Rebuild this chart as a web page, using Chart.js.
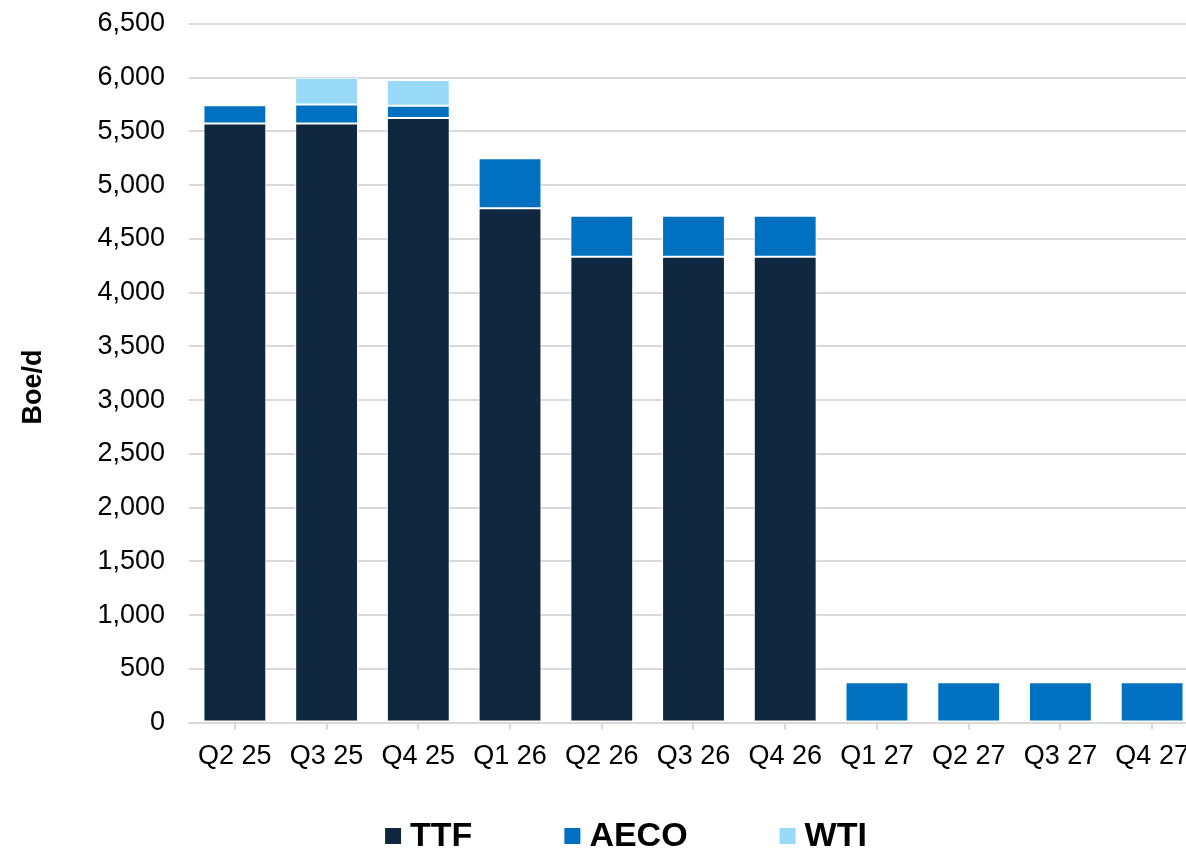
<!DOCTYPE html>
<html>
<head>
<meta charset="utf-8">
<script src="https://cdn.jsdelivr.net/npm/chart.js@4"></script>
<style>
  html, body { margin: 0; padding: 0; background: #fff; overflow: hidden; }
  #wrap { position: relative; width: 1200px; height: 851px; }
</style>
</head>
<body>
<div id="wrap"><canvas id="c"></canvas></div>
<script>
const categories = ["Q2 25", "Q3 25", "Q4 25", "Q1 26", "Q2 26", "Q3 26", "Q4 26", "Q1 27", "Q2 27", "Q3 27", "Q4 27"];
const ttf  = [5575, 5575, 5625, 4785, 4335, 4335, 4335, 0, 0, 0, 0];
const aeco = [170, 175, 115, 465, 380, 380, 380, 375, 375, 375, 375];
const wti  = [0, 250, 240, 0, 0, 0, 0, 0, 0, 0, 0];
const seriesNames = ["TTF", "AECO", "WTI"];
const seriesColors = ["#10283f", "#0070c0", "#98daf7"];
const yTitle = "Boe/d";

const FONT = "'Liberation Sans', Arial, sans-serif";

const customDecor = {
  id: 'customDecor',
  afterDraw(chart) {
    const ctx = chart.ctx;
    ctx.save();
    ctx.font = "bold 27px " + FONT;
    ctx.fillStyle = '#000';
    ctx.textAlign = 'center';
    ctx.textBaseline = 'middle';
    ctx.translate(34, 387);
    ctx.rotate(-Math.PI / 2);
    ctx.fillText(yTitle, 0, 0);
    ctx.restore();

    ctx.save();
    ctx.font = "bold 34px " + FONT;
    ctx.textBaseline = 'middle';
    ctx.textAlign = 'left';
    const box = 16, gapText = 9, gapItem = 92, cy = 836, centerX = 626;
    const items = chart.data.datasets.map(ds => ({ label: ds.label, color: ds.backgroundColor, w: box + gapText + ctx.measureText(ds.label).width }));
    const total = items.reduce((s, it) => s + it.w, 0) + gapItem * (items.length - 1);
    let x = centerX - total / 2;
    items.forEach(it => {
      ctx.fillStyle = it.color;
      ctx.fillRect(x, cy - box / 2, box, box);
      ctx.fillStyle = '#000';
      ctx.fillText(it.label, x + box + gapText, cy + 1);
      x += it.w + gapItem;
    });
    ctx.restore();
  }
};

const mk = (i, data) => ({
  label: seriesNames[i],
  data: data,
  backgroundColor: seriesColors[i],
  borderColor: '#ffffff',
  borderWidth: 1,
  borderSkipped: false,
  barPercentage: 0.685,
  categoryPercentage: 1.0
});

new Chart(document.getElementById('c'), {
  type: 'bar',
  data: {
    labels: categories,
    datasets: [mk(0, ttf), mk(1, aeco), mk(2, wti)]
  },
  options: {
    responsive: true,
    maintainAspectRatio: false,
    animation: false,
    layout: { padding: { top: 24, right: 2, bottom: 67, left: 0 } },
    plugins: {
      legend: { display: false },
      tooltip: { enabled: false }
    },
    scales: {
      x: {
        stacked: true,
        grid: { offset: false, drawOnChartArea: false, drawTicks: true, tickLength: 7, color: '#d9d9d9', lineWidth: 2 },
        border: { display: true, color: '#d9d9d9', width: 2 },
        ticks: { color: '#000', font: { family: FONT, size: 27 }, padding: 11, maxRotation: 0, autoSkip: false }
      },
      y: {
        stacked: true,
        min: 0,
        max: 6500,
        afterFit(scale) { scale.width = 189; scale.paddingTop = 0; scale.paddingBottom = 0; },
        grid: { color: '#d9d9d9', lineWidth: 2, drawTicks: false },
        border: { display: false },
        ticks: {
          stepSize: 500,
          color: '#000',
          font: { family: FONT, size: 27 },
          padding: 24,
          callback: v => Number(v).toLocaleString('en-US')
        },
        title: { display: false }
      }
    }
  },
  plugins: [customDecor]
});
</script>
</body>
</html>
